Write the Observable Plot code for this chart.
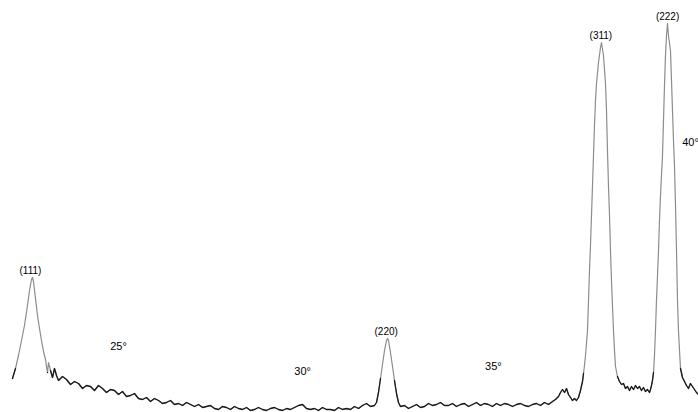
<!DOCTYPE html>
<html>
<head>
<meta charset="utf-8">
<script src="https://cdn.jsdelivr.net/npm/d3@7"></script>
<script src="https://cdn.jsdelivr.net/npm/@observablehq/plot@0.6"></script>
<style>
  html, body { margin: 0; padding: 0; background: #fff; }
  #chart svg { display: block; }
</style>
</head>
<body>
<div id="chart"></div>
<script>
// XRD scan: [2θ (degrees), intensity (arbitrary units)]
const scanPoints = [
  [22.220,34],[22.298,44],[22.377,57],[22.456,72],[22.534,87],[22.613,107],[22.666,122],[22.718,133],
  [22.744,135],[22.770,131],[22.823,114],[22.875,97],[22.928,84],[22.980,72],[23.033,61],[23.085,53],
  [23.111,46],[23.138,40],[23.164,50],[23.216,42],[23.269,35],[23.321,44],[23.374,37],[23.426,32],
  [23.531,36],[23.636,33],[23.741,28],[23.846,31],[23.951,29],[24.056,24],[24.160,27],[24.265,26],
  [24.370,22],[24.475,27],[24.580,24],[24.685,20],[24.790,23],[24.895,22],[25.000,18],[25.105,21],
  [25.209,16],[25.314,17],[25.419,19],[25.524,14],[25.629,13],[25.734,15],[25.839,11],[25.944,14],
  [26.049,12],[26.154,9],[26.258,10],[26.363,12],[26.468,8],[26.573,9],[26.678,7],[26.783,10],
  [26.888,8],[26.993,6],[27.098,8],[27.203,5],[27.308,6],[27.412,7],[27.517,4],[27.622,3],
  [27.727,6],[27.832,5],[27.937,3],[28.042,6],[28.147,4],[28.252,3],[28.357,5],[28.461,2],
  [28.566,3],[28.671,5],[28.776,3],[28.881,2],[28.986,4],[29.091,5],[29.196,3],[29.301,2],
  [29.406,4],[29.510,3],[29.615,5],[29.720,7],[29.825,8],[29.930,4],[30.035,3],[30.140,4],
  [30.245,2],[30.350,5],[30.455,3],[30.560,3],[30.664,2],[30.769,5],[30.874,3],[30.979,4],
  [31.084,3],[31.189,6],[31.294,4],[31.399,7],[31.504,9],[31.609,6],[31.713,7],
  [31.766,10],[31.818,20],[31.871,34],[31.923,48],[31.976,62],[32.028,72],[32.055,74],[32.081,72],
  [32.133,60],[32.186,46],[32.238,32],[32.291,19],[32.343,10],[32.395,6],
  [32.500,7],[32.605,4],[32.710,6],[32.815,8],[32.920,5],[33.025,6],[33.130,9],[33.235,7],
  [33.340,8],[33.444,10],[33.549,7],[33.654,7],[33.759,9],[33.864,6],[33.969,8],[34.074,9],
  [34.179,6],[34.284,8],[34.389,10],[34.494,7],[34.598,9],[34.703,8],[34.808,6],[34.913,9],
  [35.018,7],[35.123,9],[35.228,8],[35.333,6],[35.438,8],[35.543,9],[35.647,7],[35.752,6],
  [35.857,8],[35.962,9],[36.067,7],[36.172,10],[36.277,8],[36.382,11],[36.460,13],[36.539,16],
  [36.592,20],[36.644,23],[36.697,20],[36.749,24],[36.801,18],[36.854,15],[36.906,12],[36.959,14],
  [37.011,12],[37.064,15],[37.116,22],[37.169,31],[37.195,39],[37.221,47],[37.247,57],[37.273,69],
  [37.300,82],[37.326,112],[37.352,142],[37.378,167],[37.405,197],[37.431,227],[37.457,257],[37.483,287],
  [37.510,312],[37.536,329],[37.588,350],[37.641,365],[37.667,370],[37.719,357],[37.772,329],[37.798,302],
  [37.824,262],[37.850,227],[37.877,197],[37.903,162],[37.929,132],[37.955,107],[37.982,82],[38.008,62],
  [38.034,46],[38.086,36],[38.139,31],[38.191,28],[38.244,29],[38.296,24],[38.349,26],[38.401,22],
  [38.454,26],[38.506,23],[38.559,27],[38.611,24],[38.663,26],[38.716,22],[38.768,25],[38.821,21],
  [38.873,23],[38.926,20],[38.952,23],[38.978,27],[39.004,32],[39.031,40],[39.057,57],[39.083,82],
  [39.109,112],[39.136,137],[39.162,162],[39.188,192],[39.214,217],[39.240,237],[39.267,257],[39.293,292],
  [39.319,327],[39.345,357],[39.372,377],[39.398,389],[39.424,377],[39.476,362],[39.503,332],[39.529,302],
  [39.555,272],[39.581,247],[39.608,207],[39.634,162],[39.660,112],[39.686,82],[39.713,62],[39.739,44],
  [39.791,35],[39.844,31],[39.896,27],[39.948,24],[40.001,29],[40.053,26],[40.106,23],[40.158,20],
  [40.211,18]
];
const peakLabels = ["(111)", "(220)", "(311)", "(222)"];
const peakTheta = [22.69, 32.02, 37.65, 39.40];
const peakIntensity = [135, 74, 370, 389];
const angleLabels = ["25°", "30°", "35°", "40°"];
const angleTheta = [25, 29.83, 34.83, 40];
const angleIntensity = [66, 41, 46, 270];

const scan = scanPoints.map(([t, v]) => ({t, v}));
const peaks = peakLabels.map((label, i) => ({label, t: peakTheta[i], v: peakIntensity[i]}));
const angles = angleLabels.map((label, i) => ({label, t: angleTheta[i], v: angleIntensity[i]}));

const chart = Plot.plot({
  width: 698,
  height: 412,
  marginTop: 0, marginRight: 0, marginBottom: 0, marginLeft: 0,
  style: {fontFamily: "'Liberation Sans', Arial, sans-serif", background: "#fff", color: "#000"},
  x: {domain: [21.905, 40.211], axis: null},
  y: {domain: [0, 412], axis: null},
  marks: [
    Plot.line(scan, {x: "t", y: "v", stroke: "#8c8c8c", strokeWidth: 1.2}),
    Plot.line(scan, {x: "t", y: d => d.v < 45 ? d.v : NaN, stroke: "#1a1a1a", strokeWidth: 1.3}),
    Plot.text(peaks, {x: "t", y: "v", text: "label", dy: -7, fontSize: 10, fill: "#000"}),
    Plot.text(angles, {x: "t", y: "v", text: "label", fontSize: 11, fill: "#000"})
  ]
});
document.getElementById("chart").appendChild(chart);
</script>
</body>
</html>
